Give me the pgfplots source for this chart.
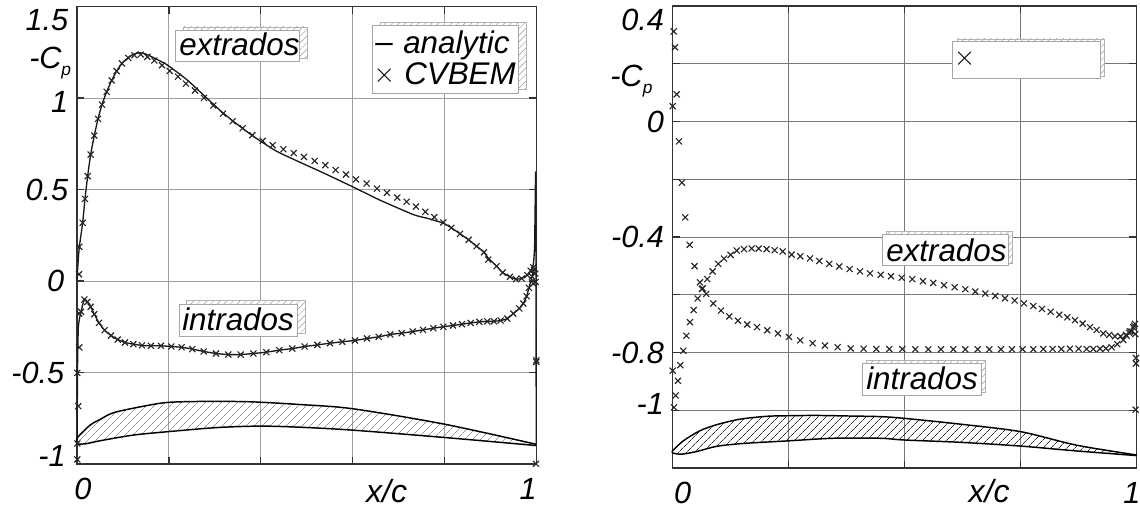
\documentclass[border=0pt]{standalone}
\usepackage{fontspec}
\setmainfont{Liberation Sans}
\usepackage{pgfplots}
\pgfplotsset{compat=1.18}
\usetikzlibrary{patterns.meta}
\definecolor{axc}{HTML}{333333}
\newcommand{\bigit}{\itshape\fontsize{23}{23}\selectfont}
\newcommand{\boxit}{\itshape\fontsize{23.5}{23.5}\selectfont}
\newcommand{\up}[2]{\raisebox{#1}[16pt][0pt]{#2}}
% box: shadow x1 y1 x2 y2, box x1 y1 x2 y2
\newcommand{\hatchbox}[8]{%
  \fill[white] (#1,#2) rectangle (#3,#4);
  \path[pattern={Lines[angle=45,distance=3.5pt,line width=.35pt]},pattern color=gray!80] (#1,#2) rectangle (#3,#4);
  \draw[gray!60,line width=.6pt] (#1,#2) rectangle (#3,#4);
  \filldraw[fill=white,draw=gray!70,line width=.7pt] (#5,#6) rectangle (#7,#8);
}
\pgfplotsset{
  common/.style={
    scale only axis, clip=false,
    axis line style={axc,line width=1.1pt},
    grid=major,
    tick align=inside,
    major tick length=5.5pt,
    tick style={axc,line width=1pt},
    ticklabel style={font=\bigit},
    xlabel style={font=\itshape\fontsize{24}{24}\selectfont,anchor=center},
    x tick label style={yshift=-7pt},
    y tick label style={xshift=-3pt},
    xlabel={x/c},
  },
  xm/.style={only marks,mark=x,mark size=3.2pt,mark options={black!85,line width=.85pt}},
  ln/.style={black!90,line width=1pt,no markers,line join=round,smooth,tension=.35},
  foil/.style={black,line width=1.1pt,no markers,smooth,tension=.5},
}
\begin{document}
\begin{tikzpicture}
\path[use as bounding box] (0,0) rectangle (855pt,381pt);
% LEFT
\begin{axis}[common,at={(57.75pt,33pt)},anchor=south west,width=344.6pt,height=343.1pt,
  xmin=0,xmax=1,ymin=-1,ymax=1.5,
  xtick={0,0.2,0.4,0.6,0.8,1},
  xticklabels={\hspace*{9pt}0,,,,,1\hspace*{12.5pt}},
  ytick={-1,-0.5,0,0.5,1,1.5},
  yticklabels={\up{6.5pt}{-1\hspace*{2pt}},-0.5\hspace*{3pt},0\hspace*{3pt},0.5,\up{-2.5pt}{1},\up{-10pt}{1.5}},
  grid style={gray!75,line width=.6pt},
  xlabel style={at={(axis description cs:0.674,0)},yshift=-20pt},
]
% airfoil
\addplot[draw=none,pattern={Lines[angle=45,distance=4pt,line width=.35pt]},pattern color=gray!90] coordinates {
(0,-.857)(.0283,-.788)(.05,-.757)(.079,-.720)(.137,-.688)(.195,-.664)(.275,-.658)(.3765,-.660)(.485,-.675)(.6,-.698)(.799,-.782)(.999,-.892)
(.999,-.899)(.799,-.855)(.6,-.815)(.485,-.799)(.398,-.793)(.304,-.801)(.195,-.824)(.1226,-.842)(.05,-.873)(.0174,-.890)(0,-.888)
} --cycle;
\addplot[foil] coordinates {(0,-.857)(.0283,-.788)(.05,-.757)(.079,-.720)(.137,-.688)(.195,-.664)(.275,-.658)(.3765,-.660)(.485,-.675)(.6,-.698)(.799,-.782)(.999,-.892)};
\addplot[foil] coordinates {(.999,-.899)(.799,-.855)(.6,-.815)(.485,-.799)(.398,-.793)(.304,-.801)(.195,-.824)(.1226,-.842)(.05,-.873)(.0174,-.890)(0,-.888)(0,-.857)};
% analytic
\addplot[ln] coordinates {
(0,0)(.002,.09)(.0051,.187)(.0123,.318)(.0174,.449)(.0232,.573)(.0297,.691)(.0377,.795)(.0457,.886)(.0544,.964)(.0646,1.034)(.0755,1.096)(.0863,1.147)(.0979,1.189)(.1117,1.222)(.1248,1.241)(.1376,1.247)(.15,1.24)(.1683,1.218)(.1951,1.183)(.2387,1.101)(.2764,1.014)(.3112,.933)(.3402,.873)(.3837,.791)(.4345,.709)(.4853,.649)(.5361,.591)(.5999,.515)(.6594,.442)(.732,.363)(.765,.341)(.7973,.316)(.8147,.291)(.8336,.258)(.8524,.225)(.8698,.190)(.8858,.157)(.8952,.125)(.9133,.081)(.9264,.046)(.9423,.023)(.9554,.010)(.9677,.014)(.98,.032)(.9873,.056)(.9931,.09)(.996,.2)(.9985,.58)(.9995,-.89)
};
\addplot[ln] coordinates {
(.0005,-.85)(.001,-.5)(.003,-.25)(.0087,-.168)(.016,-.101)(.0225,-.114)(.0297,-.141)(.0377,-.181)(.0479,-.229)(.0602,-.269)(.074,-.298)(.0885,-.320)(.1045,-.336)(.1226,-.345)(.1415,-.352)(.161,-.354)(.1828,-.354)(.2053,-.358)(.2278,-.362)(.251,-.372)(.2757,-.385)(.3025,-.396)(.3294,-.402)(.3562,-.402)(.3838,-.396)(.412,-.389)(.4403,-.378)(.4686,-.369)(.4955,-.358)(.5231,-.349)(.5506,-.340)(.5774,-.332)(.605,-.325)(.6311,-.314)(.6565,-.305)(.6819,-.292)(.7066,-.285)(.7306,-.276)(.753,-.267)(.7755,-.258)(.7973,-.250)(.8183,-.243)(.8379,-.236)(.8568,-.229)(.8756,-.223)(.893,-.221)(.9075,-.220)(.922,-.216)(.9365,-.205)(.9496,-.178)(.9626,-.150)(.9713,-.123)(.9786,-.083)(.9837,-.037)(.9902,.025)(.9946,.061)
};
% CVBEM
\addplot[xm] coordinates {
(.0051,.187)(.0123,.318)(.0174,.449)(.0232,.573)(.0297,.691)(.0377,.795)(.0457,.886)(.0544,.964)(.0646,1.034)(.0755,1.096)(.0863,1.147)(.0979,1.189)(.1117,1.219)(.1248,1.234)(.1386,1.238)(.1531,1.225)(.1683,1.205)(.185,1.179)(.2017,1.148)(.2198,1.117)(.2372,1.079)(.2568,1.041)(.2764,1.001)(.2967,.959)(.3178,.915)(.3388,.873)(.3606,.835)(.3816,.797)(.4041,.766)(.4259,.742)(.4491,.720)(.4716,.699)(.494,.678)(.5173,.656)(.5405,.633)(.5629,.607)(.5854,.582)(.6072,.555)(.6304,.533)(.6529,.505)(.6746,.482)(.6971,.456)(.7174,.433)(.7377,.407)(.7581,.378)(.7777,.349)(.7973,.320)(.8147,.291)(.8336,.258)(.8524,.225)(.8698,.190)(.8858,.157)(.8952,.117)(.9133,.081)(.9264,.046)(.9423,.023)(.9554,.010)(.9677,.014)(.98,.032)(.9873,.056)(.9931,.074)(.9975,.041)(.9982,-.005)(.9997,-.433)(.9997,-.442)(.9989,-.999)
};
\addplot[xm] coordinates {
(.0007,-.975)(.0007,-.888)(.0029,-.684)(.0007,-.502)(.0051,-.363)(.0051,-.178)(.0044,.037)(.0087,-.168)(.016,-.101)(.0225,-.114)(.0297,-.141)(.0377,-.181)(.0479,-.229)(.0602,-.269)(.074,-.298)(.0885,-.320)(.1045,-.336)(.1226,-.345)(.1415,-.352)(.161,-.354)(.1828,-.354)(.2053,-.358)(.2278,-.362)(.251,-.372)(.2757,-.385)(.3025,-.396)(.3294,-.402)(.3562,-.402)(.3838,-.396)(.412,-.389)(.4403,-.378)(.4686,-.369)(.4955,-.358)(.5231,-.349)(.5506,-.340)(.5774,-.332)(.605,-.325)(.6311,-.314)(.6565,-.305)(.6819,-.292)(.7066,-.285)(.7306,-.276)(.753,-.267)(.7755,-.258)(.7973,-.250)(.8183,-.243)(.8379,-.236)(.8568,-.229)(.8756,-.223)(.893,-.221)(.9075,-.220)(.922,-.216)(.9365,-.205)(.9496,-.178)(.9626,-.150)(.9713,-.123)(.9786,-.083)(.9837,-.037)(.9902,.025)(.9946,.061)(.9931,-.014)
};
\end{axis}
% RIGHT
\begin{axis}[common,at={(504.5pt,30pt)},anchor=south west,width=348pt,height=346.5pt,
  xmin=0,xmax=1,ymin=-1.2,ymax=0.4,
  xtick={0,0.25,0.5,0.75,1},
  xticklabels={\hspace*{15pt}0,,,,1\hspace*{7pt}},
  ytick={-1.2,-1,-0.8,-0.6,-0.4,-0.2,0,0.2,0.4},
  yticklabels={,\up{5pt}{-1},-0.8,,-0.4,,0,,\up{-10.5pt}{0.4}},
  grid style={gray!95!black,line width=.6pt},
  xlabel style={at={(axis description cs:0.682,0)},yshift=-17pt},
]
\addplot[draw=none,pattern={Lines[angle=45,distance=4pt,line width=.5pt]},pattern color=black!80] coordinates {
(0,-1.140)(.0229,-1.106)(.0588,-1.071)(.0948,-1.050)(.145,-1.031)(.2025,-1.021)(.2492,-1.019)(.3103,-1.018)(.3821,-1.020)(.4468,-1.022)(.4992,-1.028)(.6192,-1.048)(.7492,-1.074)(.8706,-1.121)(1,-1.155)
(1,-1.157)(.8706,-1.141)(.7492,-1.124)(.6192,-1.111)(.4992,-1.103)(.4468,-1.097)(.3462,-1.097)(.2492,-1.106)(.1522,-1.115)(.0948,-1.125)(.0517,-1.143)(.0193,-1.152)(0,-1.148)
} --cycle;
\addplot[foil] coordinates {(0,-1.140)(.0229,-1.106)(.0588,-1.071)(.0948,-1.050)(.145,-1.031)(.2025,-1.021)(.2492,-1.019)(.3103,-1.018)(.3821,-1.020)(.4468,-1.022)(.4992,-1.028)(.6192,-1.048)(.7492,-1.074)(.8706,-1.121)(1,-1.155)};
\addplot[foil] coordinates {(1,-1.157)(.8706,-1.141)(.7492,-1.124)(.6192,-1.111)(.4992,-1.103)(.4468,-1.097)(.3462,-1.097)(.2492,-1.106)(.1522,-1.115)(.0948,-1.125)(.0517,-1.143)(.0193,-1.152)(0,-1.148)(0,-1.140)};
\addplot[xm] coordinates {
(.0021,.312)(.005,.257)(.0086,.094)(0,.053)(.0136,-.069)(.02,-.212)(.0272,-.332)(.0366,-.427)(.0473,-.501)(.0588,-.557)(.0646,-.578)(.0725,-.597)(.0876,-.630)(.1041,-.655)(.1221,-.675)(.1407,-.690)(.1608,-.703)(.1817,-.712)(.2039,-.723)(.2269,-.734)(.2506,-.746)(.2751,-.758)(.3017,-.768)(.3282,-.776)(.3555,-.782)(.3836,-.786)(.4116,-.787)(.4389,-.788)(.4669,-.788)(.4949,-.788)(.5229,-.789)(.5509,-.789)(.5782,-.789)(.6048,-.789)(.6307,-.789)(.6573,-.789)(.6824,-.789)(.7075,-.789)(.7312,-.789)(.7542,-.789)(.7772,-.789)(.7988,-.788)(.8189,-.788)(.8376,-.788)(.8562,-.787)(.8749,-.787)(.8922,-.788)(.9065,-.788)(.9209,-.787)(.9338,-.786)(.946,-.782)(.9583,-.771)(.9712,-.757)(.9784,-.742)(.9856,-.727)(.9928,-.713)(.9964,-.701)(.9985,-.819)(.9985,-.838)(.9978,-.998)
};
\addplot[xm] coordinates {
(.0028,-.990)(.0064,-.949)(.0114,-.898)(0,-.863)(.0164,-.844)(.0229,-.794)(.0294,-.742)(.0373,-.695)(.0452,-.653)(.0538,-.613)(.0631,-.580)(.0746,-.546)(.0861,-.519)(.0983,-.493)(.1106,-.475)(.1249,-.462)(.1379,-.447)(.1537,-.442)(.1702,-.440)(.1853,-.440)(.2025,-.442)(.2198,-.446)(.237,-.450)(.2564,-.461)(.2751,-.467)(.2959,-.474)(.316,-.483)(.3376,-.493)(.3591,-.502)(.3814,-.511)(.4037,-.519)(.4252,-.526)(.4482,-.531)(.4705,-.536)(.4935,-.541)(.5164,-.546)(.5394,-.553)(.5617,-.559)(.5847,-.567)(.6077,-.574)(.6307,-.581)(.6522,-.589)(.6738,-.596)(.6953,-.604)(.7162,-.612)(.737,-.620)(.7571,-.630)(.7772,-.639)(.7959,-.649)(.8146,-.659)(.8333,-.669)(.8505,-.678)(.867,-.688)(.8836,-.700)(.8994,-.712)(.9138,-.722)(.9281,-.734)(.941,-.739)(.9532,-.744)(.9654,-.744)(.9769,-.739)(.9841,-.732)(.9891,-.727)(.9942,-.707)(.997,-.736)
};
\end{axis}
% boxes and labels, in reference pixels
\begin{scope}[x=.75pt,y=-.75pt,yshift=381pt,every node/.style={inner sep=0pt}]
\hatchbox{183}{27}{307.7}{58}{175}{30}{299.3}{61}
\node[font=\boxit,anchor=base west] at (179,55.5) {extrados};
\hatchbox{186}{300.7}{305.3}{333.3}{179.3}{304}{297.3}{336}
\node[font=\boxit,anchor=base west] at (182,330) {intrados};
\hatchbox{380}{22.7}{526.7}{89.7}{372.3}{25.7}{518.7}{93.3}
\node[font=\boxit] at (384,48) {–};
\node[font=\boxit,anchor=base west] at (403,53.7) {analytic};
\node[font=\fontsize{22}{22}\selectfont] at (384.5,75.5) {$\times$};
\node[font=\boxit,anchor=base west] at (404,84.3) {CVBEM};
\hatchbox{957}{39}{1104.6}{76.5}{952.7}{41}{1100.7}{78.3}
\node[font=\fontsize{22}{22}\selectfont] at (964.7,58.5) {$\times$};
\hatchbox{886}{231.7}{1012}{263.3}{882.3}{234.3}{1008.3}{265}
\node[font=\boxit,anchor=base west] at (886,261) {extrados};
\hatchbox{866}{360}{985.3}{392.3}{862.7}{363.3}{981.7}{395}
\node[font=\boxit,anchor=base west] at (866,389) {intrados};
\node[font=\itshape\fontsize{23}{23}\selectfont,anchor=base west] at (29,69) {-C};
\node[font=\itshape\fontsize{13}{13}\selectfont,anchor=base west] at (61,76) {p};
\node[font=\itshape\fontsize{23}{23}\selectfont,anchor=base west] at (610,87) {-C};
\node[font=\itshape\fontsize{13}{13}\selectfont,anchor=base west] at (642.5,93.5) {p};
\end{scope}
\end{tikzpicture}
\end{document}
